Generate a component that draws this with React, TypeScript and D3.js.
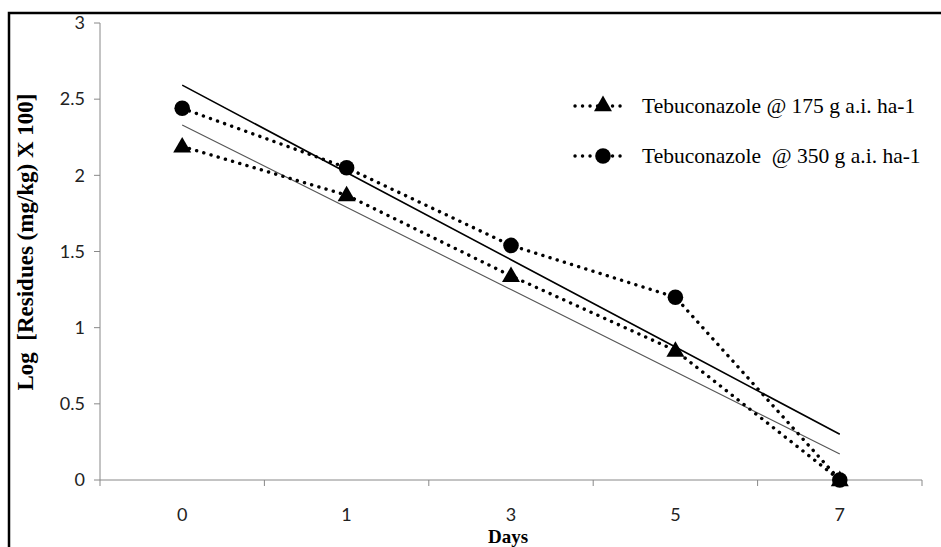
import React from 'react'
import * as d3 from 'd3'

// days (categorical) and log residue values
const days = ['0', '1', '3', '5', '7']
const low = [2.19, 1.87, 1.34, 0.85, 0]
const high = [2.44, 2.05, 1.54, 1.2, 0]
const yTicks = [0, 0.5, 1, 1.5, 2, 2.5, 3]
const legendLabels = ['Tebuconazole @ 175 g a.i. ha-1', 'Tebuconazole  @ 350 g a.i. ha-1']

// least squares trend over category index (like excel's linear trendline)
const trend = (vals: number[]) => {
  const xs = vals.map((_, i) => i + 1)
  const mx = d3.mean(xs)!, my = d3.mean(vals)!
  const slope = d3.sum(xs, (x, i) => (x - mx) * (vals[i] - my)) / d3.sum(xs, x => (x - mx) ** 2)
  return vals.map((_, i) => my + slope * (xs[i] - mx))
}

export default function App() {
  const width = 941, height = 547
  const left = 100, right = 922, top = 23, bottom = 480

  const x = d3.scaleBand().domain(days).range([left, right])
  const y = d3.scaleLinear().domain([0, 3]).range([bottom, top])
  const cx = (d: string) => x(d)! + x.bandwidth() / 2

  const line = d3.line<number>()
    .x((_, i) => cx(days[i]))
    .y(v => y(v))

  const tri = d3.symbol().type(d3.symbolTriangle).size(140)()!
  const dotted = { fill: 'none', stroke: '#000', strokeWidth: 3.4, strokeDasharray: '0.1 7.4', strokeLinecap: 'round' as const }
  const axisColor = '#888'
  const serif = "'Liberation Serif', 'Times New Roman', serif"
  const sans = "Lato, 'Open Sans', sans-serif"

  return (
    <div style={{ position: 'absolute', left: 0, top: 0 }}>
      <svg width={width} height={height} style={{ display: 'block' }}>
        <rect x={0} y={0} width={width} height={height} fill="#fff" />
        <rect x={9} y={13} width={width + 20} height={height + 20} fill="none" stroke="#000" strokeWidth={2.5} />

        {/* y axis */}
        <line x1={left} x2={left} y1={top} y2={bottom} stroke={axisColor} />
        {yTicks.map(t => (
          <g key={t}>
            <line x1={left - 6} x2={left} y1={y(t)} y2={y(t)} stroke={axisColor} />
            <text x={left - 15} y={y(t)} dy="0.35em" textAnchor="end"
              fontFamily={sans} fontSize={18} fill="#222">{t}</text>
          </g>
        ))}

        {/* x axis */}
        <line x1={left} x2={right} y1={bottom} y2={bottom} stroke={axisColor} />
        {[...days.map(d => x(d)!), right].map((p, i) => (
          <line key={i} x1={p} x2={p} y1={bottom} y2={bottom + 6} stroke={axisColor} />
        ))}
        {days.map(d => (
          <text key={d} x={cx(d)} y={521} textAnchor="middle"
            fontFamily={sans} fontSize={18} fill="#222">{d}</text>
        ))}

        <text x={508} y={543} textAnchor="middle" fontFamily={serif}
          fontWeight="bold" fontSize={19}>Days</text>
        <text transform="translate(33,242) rotate(-90)" textAnchor="middle"
          fontFamily={serif} fontWeight="bold" fontSize={23}
          style={{ whiteSpace: 'pre' }}>{'Log  [Residues (mg/kg) X 100]'}</text>

        {/* trend lines */}
        <path d={line(trend(low))!} fill="none" stroke="#555" strokeWidth={1.1} />
        <path d={line(trend(high))!} fill="none" stroke="#000" strokeWidth={1.6} />

        {/* series */}
        <path d={line(low)!} {...dotted} />
        <path d={line(high)!} {...dotted} />
        {low.map((v, i) => (
          <path key={'t' + i} d={tri} transform={`translate(${cx(days[i])},${y(v) + 1})`} fill="#000" />
        ))}
        {high.map((v, i) => (
          <circle key={'c' + i} cx={cx(days[i])} cy={y(v)} r={7.8} fill="#000" />
        ))}

        {/* legend */}
        {legendLabels.map((lab, i) => {
          const ly = 106 + i * 50
          return (
            <g key={lab}>
              <line x1={575} x2={624} y1={ly} y2={ly} {...dotted} />
              {i === 0
                ? <path d={tri} transform={`translate(603,${ly})`} fill="#000" />
                : <circle cx={603} cy={ly} r={7.8} fill="#000" />}
              <text x={642} y={ly} dy="0.32em" fontFamily={serif}
                fontSize={21.5} style={{ whiteSpace: 'pre' }}>{lab}</text>
            </g>
          )
        })}
      </svg>
    </div>
  )
}
